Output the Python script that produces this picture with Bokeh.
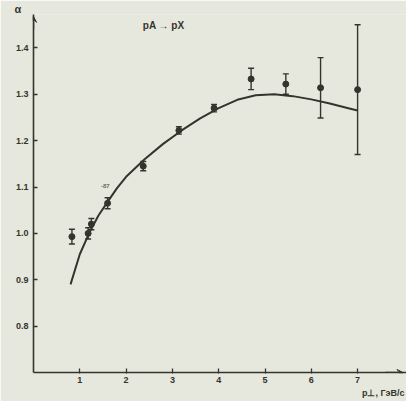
from bokeh.plotting import figure
from bokeh.models import (ColumnDataSource, Whisker, TeeHead, Arrow, VeeHead,
                          FixedTicker, Label, Range1d, Title)
from bokeh.embed import file_html
from bokeh.resources import INLINE

# ---- data ----
pt_x = [0.83, 1.18, 1.25, 1.60, 2.37, 3.14, 3.90, 4.70, 5.45, 6.20, 7.00]
pt_alpha = [0.993, 1.000, 1.020, 1.065, 1.145, 1.222, 1.270, 1.333, 1.322, 1.314, 1.310]
pt_err = [0.016, 0.012, 0.012, 0.012, 0.010, 0.008, 0.008, 0.023, 0.022, 0.065, 0.140]

curve_x = [0.80, 1.00, 1.20, 1.40, 1.60, 1.80, 2.00, 2.40, 2.80, 3.20, 3.60,
           4.00, 4.40, 4.80, 5.20, 5.60, 6.00, 6.40, 6.80, 7.00]
curve_alpha = [0.890, 0.955, 1.000, 1.038, 1.068, 1.097, 1.122, 1.160, 1.193, 1.222, 1.248,
               1.270, 1.288, 1.298, 1.300, 1.296, 1.289, 1.280, 1.270, 1.265]

x_ticks = [1, 2, 3, 4, 5, 6, 7]
y_ticks = [0.8, 0.9, 1.0, 1.1, 1.2, 1.3, 1.4]
y_tick_labels = ["0.8", "0.9", "1.0", "1.1", "1.2", "1.3", "1.4"]

title_text = "pA \u2192 pX"
x_label = "p\u22a5, \u0413\u044d\u0412/\u0441"
y_label = "\u03b1"

INK = "#34342e"
PAPER = "#e7e8dd"
FONT = "Liberation Sans"

W, H = 406, 401
p = figure(width=W, height=H, output_backend="svg", toolbar_location=None,
           x_range=Range1d(0, (W - 33) / 46.3), y_range=Range1d(0.7, 0.7 + (372 - 13) / 465.0),
           min_border_left=33, min_border_right=0, min_border_top=13, min_border_bottom=H - 372)
p.background_fill_color = PAPER
p.border_fill_color = PAPER
p.outline_line_color = None
p.grid.visible = False

for ax in (p.xaxis[0], p.yaxis[0]):
    ax.axis_line_color = INK
    ax.axis_line_width = 1.6
    ax.major_tick_line_color = INK
    ax.major_tick_line_width = 1.3
    ax.minor_tick_line_color = None
    ax.major_label_text_color = INK
    ax.major_label_text_font = FONT
    ax.major_label_text_font_style = "bold"
    ax.major_label_text_font_size = "9px"

p.xaxis[0].ticker = FixedTicker(ticks=x_ticks)
p.xaxis[0].major_tick_in = 4
p.xaxis[0].major_tick_out = 1
p.xaxis[0].major_label_standoff = 3

p.yaxis[0].ticker = FixedTicker(ticks=y_ticks)
p.yaxis[0].major_label_overrides = {t: s for t, s in zip(y_ticks, y_tick_labels)}
p.yaxis[0].major_tick_in = 4
p.yaxis[0].major_tick_out = 0
p.yaxis[0].major_label_standoff = 5

# axis titles placed in the side panels (outside the frame)
p.add_layout(Title(text=x_label, align="right", offset=2, standoff=0,
                   text_font=FONT, text_font_style="bold", text_font_size="9px",
                   text_color=INK), "below")
p.add_layout(Title(text=y_label, align="left", offset=-19, standoff=0,
                   text_font=FONT, text_font_style="bold", text_font_size="11px",
                   text_color=INK), "above")

# axis arrow heads
p.add_layout(Arrow(end=VeeHead(size=6, line_color=INK, fill_color=INK, line_width=1),
                   x_start=0, y_start=1.44, x_end=0, y_end=1.468,
                   line_color=INK, line_width=1.4))
p.add_layout(Arrow(end=VeeHead(size=6, line_color=INK, fill_color=INK, line_width=1),
                   x_start=7.6, y_start=0.7, x_end=7.98, y_end=0.7,
                   line_color=INK, line_width=1.4))

# fitted curve
p.line(curve_x, curve_alpha, line_color=INK, line_width=2)

# data points with error bars
src = ColumnDataSource(dict(x=pt_x, y=pt_alpha,
                            lo=[a - e for a, e in zip(pt_alpha, pt_err)],
                            hi=[a + e for a, e in zip(pt_alpha, pt_err)]))
p.add_layout(Whisker(source=src, base="x", upper="hi", lower="lo", dimension="height",
                     line_color=INK, line_width=1.4,
                     upper_head=TeeHead(size=6, line_color=INK, line_width=1.4),
                     lower_head=TeeHead(size=6, line_color=INK, line_width=1.4)))
p.scatter("x", "y", source=src, size=6, color=INK)

# texts inside the frame
p.add_layout(Label(x=2.81, y=1.449, text=title_text, text_align="center",
                   text_baseline="middle", text_font=FONT, text_font_style="bold",
                   text_font_size="10px", text_color=INK))
p.add_layout(Label(x=1.55, y=1.103, text="-87", text_align="center",
                   text_baseline="middle", text_font=FONT, text_font_style="bold",
                   text_font_size="6px", text_color="#6a6a60"))

open("out.html", "w").write(file_html(p, INLINE))
